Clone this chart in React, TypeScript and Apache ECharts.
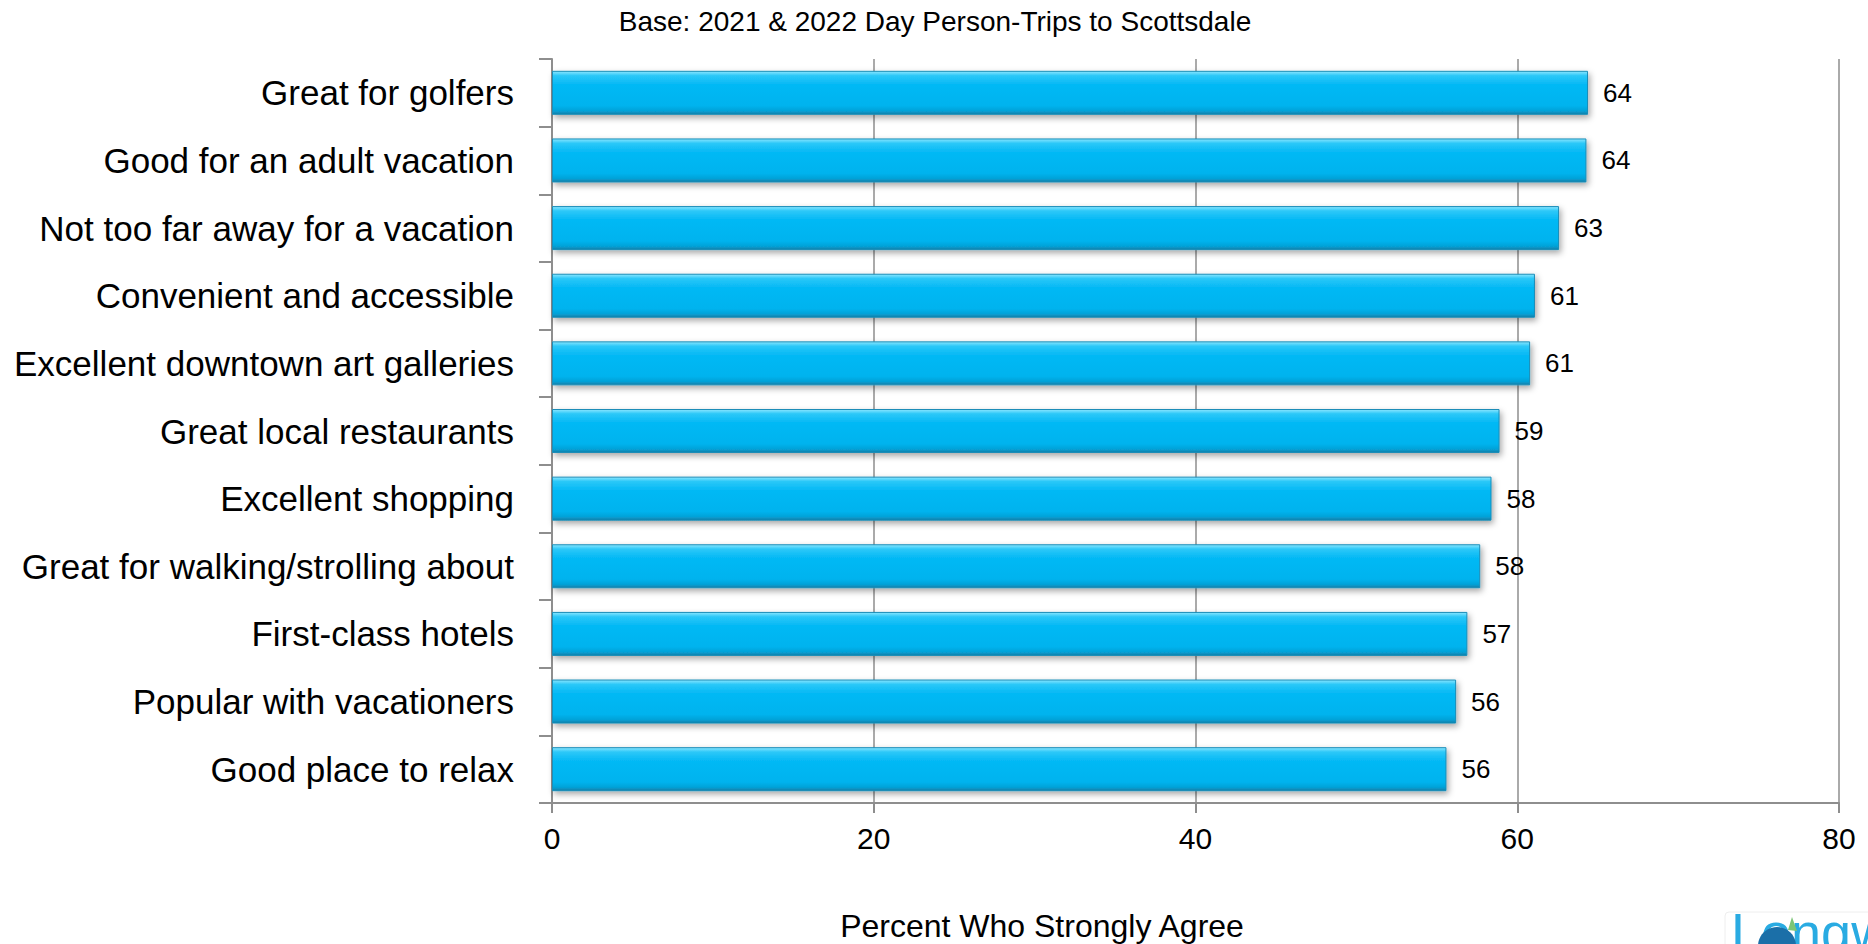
import React, { useEffect, useRef } from "react";
import * as echarts from "echarts";

const categories = [
  "Great for golfers",
  "Good for an adult vacation",
  "Not too far away for a vacation",
  "Convenient and accessible",
  "Excellent downtown art galleries",
  "Great local restaurants",
  "Excellent shopping",
  "Great for walking/strolling about",
  "First-class hotels",
  "Popular with vacationers",
  "Good place to relax",
];

const values = [64.4, 64.3, 62.6, 61.1, 60.8, 58.9, 58.4, 57.7, 56.9, 56.2, 55.6];

const xMin = 0;
const xMax = 80;
const xStep = 20;

const titleText = "Base: 2021 & 2022 Day Person-Trips to Scottsdale";
const xAxisTitle = "Percent Who Strongly Agree";
const logoText = "Longwoods";

const AXIS_GRAY = "#8e8e8e";
const SANS = "'Liberation Sans', Arial, sans-serif";

export default function App() {
  const ref = useRef<HTMLDivElement>(null);

  useEffect(() => {
    if (!ref.current) return;
    const chart = echarts.init(ref.current, null, { renderer: "svg" });
    chart.setOption({
      animation: false,
      backgroundColor: "#ffffff",
      grid: {
        left: 552,
        right: 29,
        top: 59,
        bottom: 141,
        containLabel: false,
        outerBoundsMode: "none",
      },
      xAxis: {
        type: "value",
        min: xMin,
        max: xMax,
        interval: xStep,
        axisLine: { show: true, lineStyle: { color: AXIS_GRAY, width: 2 } },
        axisTick: { show: true, length: 10, lineStyle: { color: AXIS_GRAY, width: 2 } },
        splitLine: { show: true, lineStyle: { color: AXIS_GRAY, width: 1.5 } },
        axisLabel: { fontSize: 30, color: "#000", fontFamily: SANS, margin: 20 },
      },
      yAxis: {
        type: "category",
        data: categories,
        inverse: true,
        axisLine: { show: true, lineStyle: { color: AXIS_GRAY, width: 2 } },
        axisTick: { show: true, length: 13, lineStyle: { color: AXIS_GRAY, width: 2 } },
        axisLabel: { fontSize: 35, color: "#000", fontFamily: SANS, margin: 38 },
        splitLine: { show: false },
      },
      series: [
        {
          type: "bar",
          data: values,
          barWidth: 44,
          itemStyle: {
            color: new echarts.graphic.LinearGradient(0, 0, 0, 1, [
              { offset: 0, color: "#8ae6ff" },
              { offset: 0.1, color: "#2cc8f8" },
              { offset: 0.3, color: "#06b9f5" },
              { offset: 0.8, color: "#05b3ee" },
              { offset: 0.92, color: "#06a2d8" },
              { offset: 1, color: "#0a7fa8" },
            ]),
            borderColor: "#1a8db8",
            borderWidth: 1,
            shadowColor: "rgba(0,0,0,0.35)",
            shadowBlur: 6,
            shadowOffsetX: 2,
            shadowOffsetY: 3,
          },
          label: {
            show: true,
            position: "right",
            distance: 15,
            fontSize: 26,
            color: "#000",
            fontFamily: SANS,
            formatter: (p: any) => String(Math.round(p.value)),
          },
        },
      ],
      graphic: [
        {
          type: "text",
          x: 935,
          y: 21,
          style: {
            text: titleText,
            fontSize: 28,
            fontFamily: SANS,
            fill: "#000",
            textAlign: "center",
            textVerticalAlign: "middle",
          },
        },
        {
          type: "text",
          x: 1042,
          y: 926,
          style: {
            text: xAxisTitle,
            fontSize: 32,
            fontFamily: SANS,
            fill: "#000",
            textAlign: "center",
            textVerticalAlign: "middle",
          },
        },
        {
          type: "rect",
          shape: { x: 1725, y: 912, width: 160, height: 60, r: 4 },
          style: { fill: "none", stroke: "#eeeeee", lineWidth: 1 },
        },
        {
          type: "text",
          x: 1731,
          y: 905,
          style: {
            text: logoText,
            fontSize: 54,
            fontFamily: SANS,
            fill: "#29abe2",
            textAlign: "left",
            textVerticalAlign: "top",
          },
        },
        {
          type: "circle",
          shape: { cx: 1777, cy: 946, r: 19 },
          style: { fill: "#1b6fa8" },
        },
        {
          type: "polygon",
          shape: { points: [[1788, 930], [1792, 917], [1797, 931]] },
          style: { fill: "#7cc576" },
        },
      ],
    });
    return () => chart.dispose();
  }, []);

  return (
    <div
      ref={ref}
      style={{ position: "fixed", left: 0, top: 0, width: 1868, height: 944, background: "#fff" }}
    />
  );
}
